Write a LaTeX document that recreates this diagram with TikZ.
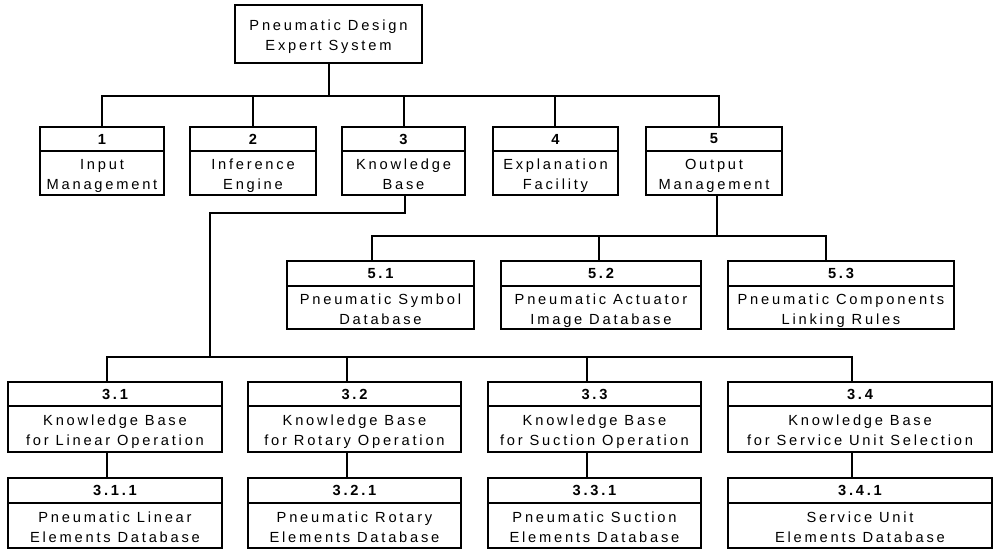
\documentclass[tikz,border=0pt]{standalone}
\usepackage{fontspec}
\setmainfont{Liberation Sans}[LetterSpace=19]

% One framed chart entry: a number strip on top and a text body below.
% #1 name, #2 left x, #3 right x, #4 top y, #5 divider y, #6 bottom y, #7 number, #8 text
\newcommand\chartentry[8]{%
  \node[entrybox, minimum width={(#3-#2)*0.75pt}, minimum height={(#6-#4)*0.75pt}]
    (#1) at ({(#2+#3)/2},{(#4+#6)/2}) {};
  \draw[link] (#1.west |- 0,#5) -- (#1.east |- 0,#5);
  \node[numlabel] (#1-num) at ({(#2+#3)/2},{(#4+#5)/2}) {#7};
  \node[bodylabel] (#1-txt) at ({(#2+#3)/2},{(#5+#6)/2}) {#8};
}

\tikzset{
  link/.style={line width=1.3pt, draw=black},
  entrybox/.style={draw=black, line width=1.3pt, inner sep=0pt, rectangle},
  numlabel/.style={font=\fontsize{11}{15}\selectfont\bfseries, inner sep=0pt},
  bodylabel/.style={font=\fontsize{11}{15}\selectfont, align=center, inner sep=0pt,
    text depth=2.5pt, yshift=-2.5pt},
}

\begin{document}
\begin{tikzpicture}[x=0.75pt, y=-0.75pt]
\useasboundingbox (0,0) rectangle (994,549);

% root
\node[entrybox, minimum width={187*0.75pt}, minimum height={58*0.75pt}] (root) at (328.5,34) {};
\node[bodylabel] (root-txt) at (328.5,34) {Pneumatic Design\\Expert System};

% first level
\chartentry{b1}{40}{164}{127}{151}{195}{1}{Input\\Management}
\chartentry{b2}{190}{316}{127}{151}{195}{2}{Inference\\Engine}
\chartentry{b3}{342}{465}{127}{151}{195}{3}{Knowledge\\Base}
\chartentry{b4}{493}{618}{127}{151}{195}{4}{Explanation\\Facility}
\chartentry{b5}{646}{782}{127}{151}{195}{5}{Output\\Management}

% output management children
\chartentry{b51}{287}{474}{261}{286}{329}{5.1}{Pneumatic Symbol\\Database}
\chartentry{b52}{501}{701}{261}{286}{329}{5.2}{Pneumatic Actuator\\Image Database}
\chartentry{b53}{728}{954}{261}{286}{329}{5.3}{Pneumatic Components\\Linking Rules}

% knowledge base children
\chartentry{b31}{8}{222}{382}{406}{452}{3.1}{Knowledge Base\\for Linear Operation}
\chartentry{b32}{248}{461}{382}{406}{452}{3.2}{Knowledge Base\\for Rotary Operation}
\chartentry{b33}{488}{701}{382}{406}{452}{3.3}{Knowledge Base\\for Suction Operation}
\chartentry{b34}{728}{992}{382}{406}{452}{3.4}{Knowledge Base\\for Service Unit Selection}

% databases
\chartentry{b311}{8}{222}{478}{503}{548}{3.1.1}{Pneumatic Linear\\Elements Database}
\chartentry{b321}{248}{461}{478}{503}{548}{3.2.1}{Pneumatic Rotary\\Elements Database}
\chartentry{b331}{488}{701}{478}{503}{548}{3.3.1}{Pneumatic Suction\\Elements Database}
\chartentry{b341}{728}{992}{478}{503}{548}{3.4.1}{Service Unit\\Elements Database}

% junction points
\coordinate (j0) at (329,96);
\coordinate (c1) at (102,96);
\coordinate (c2) at (253,96);
\coordinate (c3) at (404,96);
\coordinate (c4) at (555,96);
\coordinate (c5) at (719,96);

\coordinate (d5) at (717,236);
\coordinate (e1) at (372,236);
\coordinate (e2) at (599,236);
\coordinate (e3) at (826,236);

\coordinate (k0) at (405,213);
\coordinate (k1) at (210,213);
\coordinate (k2) at (210,357);

\coordinate (f1) at (107,357);
\coordinate (f2) at (347,357);
\coordinate (f3) at (587,357);
\coordinate (f4) at (852,357);

% root to first level
\draw[link] (root.south -| j0) -- (j0);
\draw[link] (c1 |- b1.north) -- (c1) -- (c5) -- (c5 |- b5.north);
\foreach \c/\b in {c2/b2, c3/b3, c4/b4}
  \draw[link] (\c) -- (\c |- \b.north);

% output management branch
\draw[link] (d5 |- b5.south) -- (d5);
\draw[link] (e1 |- b51.north) -- (e1) -- (e3) -- (e3 |- b53.north);
\draw[link] (e2) -- (e2 |- b52.north);

% knowledge base branch
\draw[link] (k0 |- b3.south) -- (k0) -- (k1) -- (k2);
\draw[link] (f1 |- b31.north) -- (f1) -- (f4) -- (f4 |- b34.north);
\draw[link] (f2) -- (f2 |- b32.north);
\draw[link] (f3) -- (f3 |- b33.north);

% knowledge bases to their databases
\draw[link] (f1 |- b31.south) -- (f1 |- b311.north);
\draw[link] (f2 |- b32.south) -- (f2 |- b321.north);
\draw[link] (f3 |- b33.south) -- (f3 |- b331.north);
\draw[link] (f4 |- b34.south) -- (f4 |- b341.north);
\end{tikzpicture}
\end{document}
